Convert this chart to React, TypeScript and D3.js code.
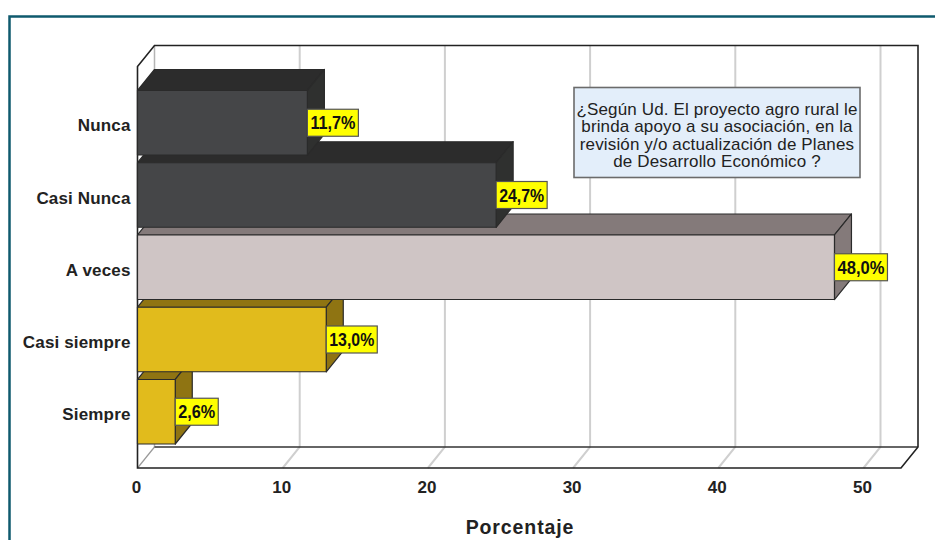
import * as d3 from 'd3';

const categories = ['Nunca', 'Casi Nunca', 'A veces', 'Casi siempre', 'Siempre'];
const percents = [11.7, 24.7, 48.0, 13.0, 2.6];
const percentLabels = ['11,7%', '24,7%', '48,0%', '13,0%', '2,6%'];
const barColors = [
  { front: '#454648', top: '#2c2c2c', side: '#2f302f' },
  { front: '#454648', top: '#2c2c2c', side: '#2f302f' },
  { front: '#cfc5c5', top: '#847a7a', side: '#847a7a' },
  { front: '#e1bb1c', top: '#8f7412', side: '#8f7412' },
  { front: '#e1bb1c', top: '#8f7412', side: '#8f7412' },
];
const xTicks = [0, 10, 20, 30, 40, 50];
const noteLines = [
  '¿Según Ud. El proyecto agro rural le',
  'brinda apoyo a su asociación, en la',
  'revisión y/o actualización de Planes',
  'de Desarrollo Económico ?',
];

const font = '"Liberation Sans", Arial, sans-serif';
const ink = '#222';
const depthX = 17;
const depthY = 21;
const plot = { left: 137.5, right: 901, top: 66.5, bottom: 468 };

const x = d3.scaleLinear().domain([0, 50]).range([137.5, 863.5]);
const y = d3.scaleBand<string>().domain(categories).range([90.5, 444]).paddingInner(0.107).paddingOuter(0);

const poly = (pts: [number, number][]) => d3.line()(pts) + 'Z';

export default function App() {
  const back = { left: plot.left + depthX, right: plot.right + depthX, top: plot.top - depthY, bottom: plot.bottom - depthY };
  const barH = y.bandwidth();

  return (
    <svg width={935} height={540} style={{ position: 'absolute', left: 0, top: 0, background: '#fff' }} fontFamily={font}>
      {/* outer frame, cut off at the right and bottom */}
      <path d="M9.5,540V16.5H935" fill="none" stroke="#0f5a6e" strokeWidth={2.5} />

      {/* grid on the back wall and floor */}
      {xTicks.slice(1).map(t => (
        <path
          key={t}
          d={`M${x(t) + depthX},${back.top}V${back.bottom}L${x(t)},${plot.bottom}`}
          fill="none"
          stroke="#cfcfcf"
          strokeWidth={2}
        />
      ))}

      {/* box */}
      <path d={`M${back.left},${back.bottom}V${back.top}`} stroke="#b5b5b5" strokeWidth={1.5} fill="none" />
      <path d={`M${plot.left},${plot.bottom}L${back.left},${back.bottom}`} stroke="#999" strokeWidth={1.2} fill="none" />
      <path d={`M${back.left},${back.bottom}H${back.right}`} stroke="#333" strokeWidth={1.5} fill="none" />
      <path
        d={`M${plot.left},${plot.bottom}V${plot.top}L${back.left},${back.top}H${back.right}V${back.bottom}L${plot.right},${plot.bottom}Z`}
        fill="none"
        stroke="#222"
        strokeWidth={1.6}
      />

      {/* bars, painted from the bottom up so upper fronts sit over lower tops */}
      {categories.map((c, i) => ({ c, i })).reverse().map(({ c, i }) => {
        const x0 = x(0);
        const x1 = x(percents[i]);
        const y0 = y(c) as number;
        const y1 = y0 + barH;
        const col = barColors[i];
        return (
          <g key={c} stroke="#2a2a2a" strokeWidth={1.2} strokeLinejoin="round">
            <path d={poly([[x0, y0], [x0 + depthX, y0 - depthY], [x1 + depthX, y0 - depthY], [x1, y0]])} fill={col.top} />
            <path d={poly([[x1, y0], [x1 + depthX, y0 - depthY], [x1 + depthX, y1 - depthY], [x1, y1]])} fill={col.side} />
            <rect x={x0} y={y0} width={x1 - x0} height={barH} fill={col.front} />
          </g>
        );
      })}

      {/* category labels */}
      {categories.map(c => (
        <text
          key={c}
          x={130.5}
          y={(y(c) as number) + barH / 2 + 8.5}
          textAnchor="end"
          fontSize={17}
          fontWeight="bold"
          letterSpacing={0.15}
          fill={ink}
        >
          {c}
        </text>
      ))}

      {/* value labels */}
      {categories.map((c, i) => {
        const left = x(percents[i]);
        const cy = (y(c) as number) + barH / 2;
        const w = i === 4 ? 43 : i === 2 ? 53 : 51;
        return (
          <g key={c}>
            <rect x={left} y={cy - 13.5} width={w} height={27} fill="#ffff00" stroke="#555" strokeWidth={1.2} />
            <text
              x={left + w / 2}
              y={cy + 6.5}
              textAnchor="middle"
              fontSize={18}
              fontWeight="bold"
              fill="#111"
              textLength={w - 6}
              lengthAdjust="spacingAndGlyphs"
            >
              {percentLabels[i]}
            </text>
          </g>
        );
      })}

      {/* note box */}
      <rect x={574} y={87.5} width={286} height={90} fill="#e3eefa" stroke="#6b6b6b" strokeWidth={1.6} />
      {noteLines.map((line, i) => (
        <text key={i} x={717} y={115 + i * 17.3} textAnchor="middle" fontSize={17} letterSpacing={0.14} fill="#222">
          {line}
        </text>
      ))}

      {/* x axis */}
      {xTicks.map(t => (
        <text key={t} x={x(t) - 1} y={493} textAnchor="middle" fontSize={17} fontWeight="bold" fill={ink}>
          {t}
        </text>
      ))}
      <text x={520} y={534} textAnchor="middle" fontSize={19.5} fontWeight="bold" letterSpacing={0.9} fill={ink}>
        Porcentaje
      </text>
    </svg>
  );
}
